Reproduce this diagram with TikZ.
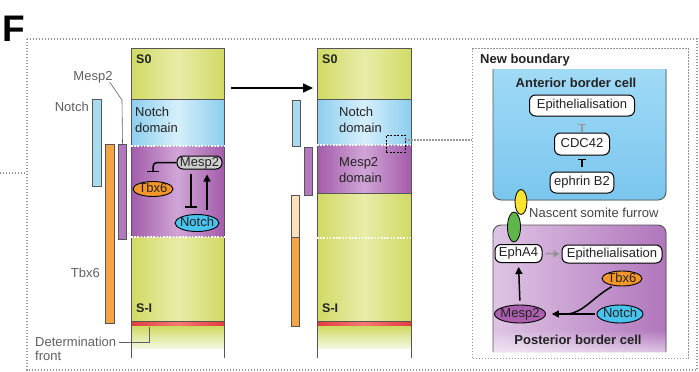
\documentclass[tikz,border=0pt]{standalone}
\usepackage{fontspec}
\setmainfont{Liberation Sans}
\usetikzlibrary{arrows.meta,shapes.geometric,fadings}

\definecolor{grn}{RGB}{208,218,100}
\definecolor{grnl}{RGB}{232,236,168}
\definecolor{blu}{RGB}{140,206,238}
\definecolor{blul}{RGB}{214,239,250}
\definecolor{pur}{RGB}{163,92,170}
\definecolor{purl}{RGB}{208,165,214}
\definecolor{org}{RGB}{246,165,70}
\definecolor{orgl}{RGB}{252,224,188}
\definecolor{barb}{RGB}{170,218,238}
\definecolor{barp}{RGB}{178,122,188}
\definecolor{edge}{RGB}{85,85,85}
\definecolor{txt}{RGB}{35,35,35}
\definecolor{lblc}{RGB}{95,95,95}
\definecolor{frm}{RGB}{150,150,150}
\definecolor{redb}{RGB}{228,60,62}
\definecolor{redl}{RGB}{245,120,115}
\definecolor{cyanN}{RGB}{72,196,238}
\definecolor{orgN}{RGB}{245,150,40}
\definecolor{purN}{RGB}{170,95,175}
\definecolor{grayN}{RGB}{205,205,205}
\definecolor{cellt}{RGB}{160,218,246}
\definecolor{cellb}{RGB}{122,198,238}
\definecolor{purcl}{RGB}{222,196,228}
\definecolor{purcd}{RGB}{176,118,188}
\definecolor{yel}{RGB}{250,228,50}
\definecolor{grnE}{RGB}{95,180,75}

\tikzset{
  colside/.style={draw=edge, line width=0.9pt},
  wdots/.style={draw=white, line width=1.6pt, dash pattern=on 1.6pt off 1.6pt},
  frame/.style={draw=frm, line width=1.3pt, dash pattern=on 1.4pt off 1.6pt},
  barbox/.style={rectangle, draw=edge, line width=0.7pt, inner sep=0pt, minimum width=8.5pt},
  lbl/.style={text=lblc, inner sep=1pt},
  leader/.style={draw=lblc, line width=0.6pt},
  pill/.style={rectangle, rounded corners=6pt, draw=black, line width=1pt, fill=white,
    text=txt, inner xsep=4pt, inner ysep=0pt, text height=9pt, text depth=2.5pt},
  gene/.style={ellipse, draw=black, line width=0.9pt, text=txt, inner xsep=-1.5pt,
    inner ysep=0.3pt, text height=8.5pt, text depth=1.5pt},
  act/.style={-{Triangle[length=7pt,width=7pt]}, line width=1.5pt},
  inh/.style={-{Bar[width=12pt,line width=1.5pt]}, line width=1.5pt},
  coltext/.style={text=txt, anchor=west, inner sep=0pt, align=left},
  stage/.style={text=txt, font=\fontsize{12.5}{14}\selectfont\bfseries, anchor=west, inner sep=0pt},
  cellhead/.style={text=txt, font=\fontsize{13}{15}\selectfont\bfseries, inner sep=0pt}
}

\begin{document}
\begin{tikzpicture}[x=1pt,y=-1pt,font=\fontsize{13}{16}\selectfont]
\useasboundingbox (0,0) rectangle (699,372);

% panel letter and frame
\node[font=\fontsize{37}{37}\selectfont\bfseries, inner sep=0pt] (letter) at (14,29) {F};
\draw[frame] (27,39) rectangle (697,370);
\coordinate (stubL) at (0,173);
\coordinate (stubR) at (27,173);
\draw[frame] (stubL) -- (stubR);

% ---------- first column ----------
\fill[left color=grn,right color=grn,middle color=grnl] (131,48) rectangle (224,99);
\fill[left color=blu,right color=blu,middle color=blul] (131,99) rectangle (224,146);
\fill[left color=pur,right color=pur,middle color=purl] (131,146) rectangle (224,237);
\fill[left color=grn,right color=grn,middle color=grnl] (131,237) rectangle (224,322);
\fill[edge] (131,321) rectangle (224,326.5);
\fill[left color=redb,right color=redb,middle color=redl] (131,322.3) rectangle (224,325.2);
\fill[top color=grn,bottom color=grn!20] (131,326.5) rectangle (224,348);
\draw[colside] (131,358) -- (131,48) -- (224,48) -- (224,358);
\draw[colside] (131,99) -- (224,99);
\draw[wdots] (131,146) -- (224,146);
\draw[wdots] (131,237) -- (224,237);

\node[stage] (s0a) at (136,59) {S0};
\node[coltext] (nda) at (135,120) {Notch\\domain};
\node[stage] (sia) at (136,308) {S-I};

% expression bars
\node[barbox, fill=barb, minimum height=87pt] (nbar) at (97,142.5) {};
\node[barbox, fill=org, minimum height=179pt] (obar) at (110,233.5) {};
\node[barbox, fill=barp, minimum height=95pt] (mbar) at (122.5,191.5) {};

\node[lbl] (lmesp) at (93,77) {Mesp2};
\node[lbl, anchor=east] (lnotch) at (90,107) {Notch};
\node[lbl, anchor=east] (ltbx) at (101,273) {Tbx6};
\node[lbl, anchor=west] (ldet) at (34,342) {Determination};
\node[lbl, anchor=west] (lfront) at (34,356) {front};
\coordinate (mknee) at (122,100);
\coordinate (detf) at (149,326.5);
\draw[leader] ([xshift=-4pt,yshift=2pt]lmesp.south east) -- (mknee) -- (mbar.north);
\draw[leader] ([xshift=2pt]ldet.east) -| (detf);

% network in the Mesp2 domain
\node[rectangle, rounded corners=6pt, draw=black, line width=1pt, fill=grayN, text=txt,
  minimum width=45pt, minimum height=13pt, inner sep=0pt, text height=8.5pt, text depth=1.5pt]
  (mesp1) at (199.5,162.5) {Mesp2};
\node[gene, fill=orgN, minimum width=40pt, minimum height=14pt] (tbx1) at (153,189) {Tbx6};
\node[gene, fill=cyanN, minimum width=44pt, minimum height=17pt] (notch1) at (197,223) {Notch};
\draw[inh, rounded corners=4pt, shorten >=9pt] (mesp1.west) -| (tbx1.north);
\draw[inh, shorten <=4pt, shorten >=6.5pt] ([xshift=-8.5pt]mesp1.south) -- ([xshift=-8.5pt]mesp1.south |- notch1.north);
\draw[act, shorten <=4.5pt, shorten >=5pt] ([xshift=7.5pt]mesp1.south |- notch1.north) -- ([xshift=7.5pt]mesp1.south);

% arrow between columns
\coordinate (arrS) at (231,88);
\coordinate (arrE) at (313,88);
\draw[-{Triangle[length=10pt,width=9pt]}, line width=1.6pt] (arrS) -- (arrE);

% ---------- second column ----------
\fill[left color=grn,right color=grn,middle color=grnl] (317,48) rectangle (411,99);
\fill[left color=blu,right color=blu,middle color=blul] (317,99) rectangle (411,145);
\fill[left color=pur,right color=pur,middle color=purl] (317,145) rectangle (411,193);
\fill[left color=grn,right color=grn,middle color=grnl] (317,193) rectangle (411,322);
\fill[edge] (317,321) rectangle (411,326.5);
\fill[left color=redb,right color=redb,middle color=redl] (317,322.3) rectangle (411,325.2);
\fill[top color=grn,bottom color=grn!20] (317,326.5) rectangle (411,348);
\draw[colside] (317,358) -- (317,48) -- (411,48) -- (411,358);
\draw[colside] (317,99) -- (411,99);
\draw[wdots] (317,145) -- (411,145);
\draw[colside] (317,193) -- (411,193);
\draw[wdots] (317,238) -- (411,238);

\node[stage] (s0b) at (322,59) {S0};
\node[coltext] (ndb) at (339,120) {Notch\\domain};
\node[coltext] (mdb) at (339,170.5) {Mesp2\\domain};
\node[stage] (sib) at (322,308) {S-I};

\node[barbox, fill=barb, minimum height=46pt] (nbar2) at (296.5,123) {};
\node[barbox, fill=barp, minimum height=48pt] (mbar2) at (308.5,171) {};
\node[barbox, fill=orgl, minimum height=42pt] (obar2a) at (295.5,216) {};
\node[barbox, fill=org, minimum height=89pt] (obar2b) at (295.5,281.5) {};

% close-up marker
\node[rectangle, draw=black, line width=0.9pt, dash pattern=on 2pt off 1.5pt,
  minimum width=19pt, minimum height=17pt, inner sep=0pt] (zoomb) at (395.5,143.5) {};

% ---------- close-up of the new boundary ----------
\node[rectangle, frame, minimum width=216pt, minimum height=310pt, inner sep=0pt,
  anchor=north west] (panel) at (472,48) {};
\draw[frame] ([yshift=3.5pt]zoomb.east) -- ([yshift=3.5pt]zoomb.east -| panel.west);
\node[cellhead, anchor=west] (nb) at (480,60) {New boundary};

% anterior cell
\fill[top color=cellt, bottom color=cellb] (493,69) -- (493,192)
  arc[start angle=180,end angle=90,radius=8] -- (658,200)
  arc[start angle=90,end angle=0,radius=8] -- (666,69) -- cycle;
\draw[colside] (493,69) -- (493,192) arc[start angle=180,end angle=90,radius=8]
  -- (658,200) arc[start angle=90,end angle=0,radius=8] -- (666,69);
\node[cellhead] (anth) at (576,83) {Anterior border cell};
\node[pill, minimum width=105pt, minimum height=21pt] (epi1) at (582,105.5) {Epithelialisation};
\node[pill, minimum width=55pt, minimum height=22pt] (cdc) at (582,144) {CDC42};
\node[pill, minimum width=63pt, minimum height=21pt] (eph) at (582,182.5) {ephrin B2};
\draw[draw=gray!80, line width=1.2pt, -{Bar[width=8pt,line width=1.2pt]}, shorten <=1pt, shorten >=7pt]
  (cdc.north) -- (epi1.south);
\draw[line width=1.8pt, -{Bar[width=8pt,line width=1.8pt]}, shorten <=5pt, shorten >=3pt]
  (eph.north) -- (cdc.south);

% posterior cell
\fill[left color=purcl, right color=purcd] (493,352) -- (493,233)
  arc[start angle=180,end angle=270,radius=8] -- (658,225)
  arc[start angle=270,end angle=360,radius=8] -- (666,352) -- cycle;
\fill[white, fill opacity=0.6, path fading=north] (492,330) rectangle (667,353);
\draw[colside] (493,352) -- (493,233) arc[start angle=180,end angle=270,radius=8]
  -- (658,225) arc[start angle=270,end angle=360,radius=8] -- (666,352);
\node[cellhead] (posh) at (578,340) {Posterior border cell};

% furrow
\node[ellipse, draw=black, line width=0.8pt, fill=grnE, minimum width=13pt, minimum height=30pt, inner sep=0pt] (gre) at (514,227) {};
\node[ellipse, draw=black, line width=0.8pt, fill=yel, minimum width=12pt, minimum height=25pt, inner sep=0pt] (yelE) at (521,202) {};
\node[anchor=west, text=txt!85, inner sep=0pt] (fur) at (529,213) {Nascent somite furrow};

\node[pill, minimum width=47pt, minimum height=18pt, inner xsep=3pt] (epha) at (518.5,253.5) {EphA4};
\node[pill, minimum width=100pt, minimum height=18pt] (epi2) at (612,254) {Epithelialisation};
\node[gene, fill=orgN, minimum width=40pt, minimum height=13pt] (tbx2) at (622,278.5) {Tbx6};
\node[gene, fill=cyanN, minimum width=46pt, minimum height=18pt] (notch2) at (620,314) {Notch};
\node[gene, fill=purN, minimum width=50pt, minimum height=18pt] (mesp2) at (520,314) {Mesp2};
\coordinate (join) at (567,314);

\draw[draw=gray!85, line width=1.4pt, -{Triangle[length=6pt,width=7pt]}, shorten <=3pt, shorten >=2pt]
  (epha.east) -- (epi2.west);
\draw[act, shorten <=4pt, shorten >=4pt] (mesp2.north) -- (epha.south);
\draw[act, shorten <=2pt, shorten >=6pt] (notch2.west) -- (mesp2.east);
\draw[line width=1.5pt, shorten <=2pt] (tbx2.220) .. controls (592,298) and (583,313) .. (join);
\end{tikzpicture}
\end{document}
